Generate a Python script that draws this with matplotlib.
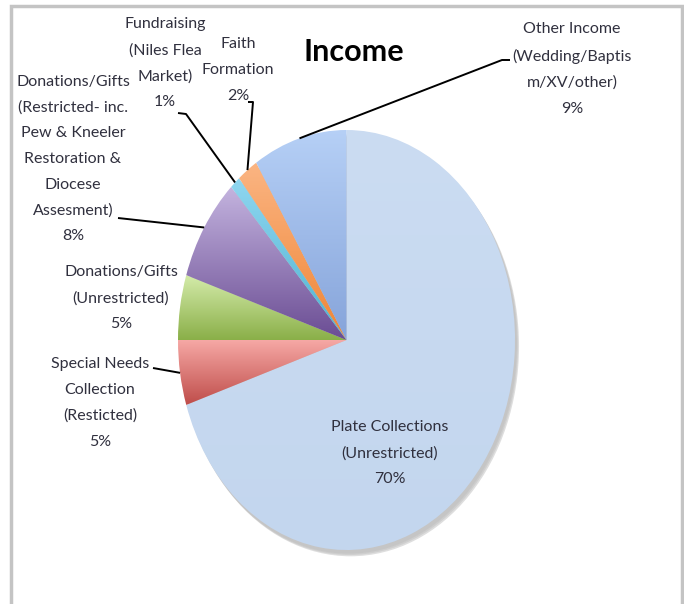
import numpy as np
import matplotlib
matplotlib.use('Agg')
import matplotlib.pyplot as plt
from matplotlib.colors import LinearSegmentedColormap
from matplotlib.patches import Ellipse

# data (percent of income)
categories = ['Plate Collections\n(Unrestricted)',
              'Special Needs\nCollection\n(Resticted)',
              'Donations/Gifts\n(Unrestricted)',
              'Donations/Gifts\n(Restricted- inc.\nPew & Kneeler\nRestoration &\nDiocese\nAssesment)',
              'Fundraising\n(Niles Flea\nMarket)',
              'Faith\nFormation',
              'Other Income\n(Wedding/Baptis\nm/XV/other)']
values = [70, 5, 5, 8, 1, 2, 9]
title = 'Income'

# top / bottom colours of the gradient fill for each slice
grad_colors = [('#CBDCF2', '#C3D6EE'),
               ('#F6A8A5', '#BF4D4A'),
               ('#D4EBAA', '#8AAF48'),
               ('#C4B4DF', '#6A4C93'),
               ('#8FD6F0', '#4FB3D0'),
               ('#FBB583', '#EF8535'),
               ('#B6D0F6', '#86A4DA')]

W, H = 684, 604
cx, cy, rx, ry = 346.5, 340, 168.5, 210   # pie ellipse in pixels
m = 1.1

font = 'Lato'
txt_col = '#30303E'

fig = plt.figure(figsize=(W / 100, H / 100), dpi=100)

# pie axes (stretched -> elliptic pie)
pax = fig.add_axes([(cx - m * rx) / W, (H - cy - m * ry) / H, 2 * m * rx / W, 2 * m * ry / H])
wedges, _ = pax.pie(values, startangle=90, counterclock=False,
                    wedgeprops={'linewidth': 0})
for k, a in enumerate([0.12, 0.18, 0.28]):
    pax.add_patch(Ellipse((0.012 + 0.006 * k, -0.018 - 0.006 * k), 2, 2,
                          facecolor='#8a8a8a', edgecolor='none', alpha=a, zorder=0))
grad = np.linspace(0, 1, 256).reshape(-1, 1)
for w, (ctop, cbot) in zip(wedges, grad_colors):
    ext = w.get_path().get_extents()
    cmap = LinearSegmentedColormap.from_list('g', [cbot, ctop])
    im = pax.imshow(grad, cmap=cmap, origin='lower', aspect='auto', interpolation='bilinear',
                    extent=(ext.x0, ext.x1, ext.y0, ext.y1), zorder=2)
    im.set_clip_path(w)
    w.set_facecolor('none')
pax.set_aspect('auto')
pax.set_xlim(-m, m)
pax.set_ylim(-m, m)
pax.axis('off')

# overlay axes in pixel coordinates for text, leaders and frame
ax = fig.add_axes([0, 0, 1, 1])
ax.set_xlim(0, W)
ax.set_ylim(H, 0)
ax.axis('off')
ax.patch.set_alpha(0)

# frame
ax.plot([10.5, 10.5, 681.5, 681.5], [H + 5, 5.5, 5.5, H + 5], color='#C4C4C4', lw=2.5,
        solid_joinstyle='miter', clip_on=False)

ax.text(354, 52, title, ha='center', va='center', fontsize=22, fontweight='bold',
        family=font, color='black')

# mid-angle of each slice on the pie edge
cum = np.cumsum([0] + values)
mids = [(cum[i] + cum[i + 1]) / 2 / sum(values) * 2 * np.pi for i in range(len(values))]

def edge(i):
    return cx + rx * np.sin(mids[i]), cy - ry * np.cos(mids[i])

labels = [c + '\n' + str(v) + '%' for c, v in zip(categories, values)]

# label centres (pixels)
label_pos = [(390, 453), (100, 403), (121, 298), (73, 159), (165, 63), (238, 70), (572, 69)]
# where leader lines start near the label (None = no leader)
leader_end = [None, [(153, 368)], None, [(118, 218)], [(178, 113), (186, 114)],
              [(248, 102), (253, 102)], [(510, 60), (502, 60)]]

for i, lab in enumerate(labels):
    x, y = label_pos[i]
    ax.text(x, y, lab, ha='center', va='center', fontsize=11.5, family=font,
            color=txt_col, linespacing=2.05)
    if leader_end[i] is not None:
        pts = leader_end[i] + [edge(i)]
        ax.plot([p[0] for p in pts], [p[1] for p in pts], color='black', lw=1.4,
                solid_capstyle='butt')

fig.savefig('out.png', dpi=100)
